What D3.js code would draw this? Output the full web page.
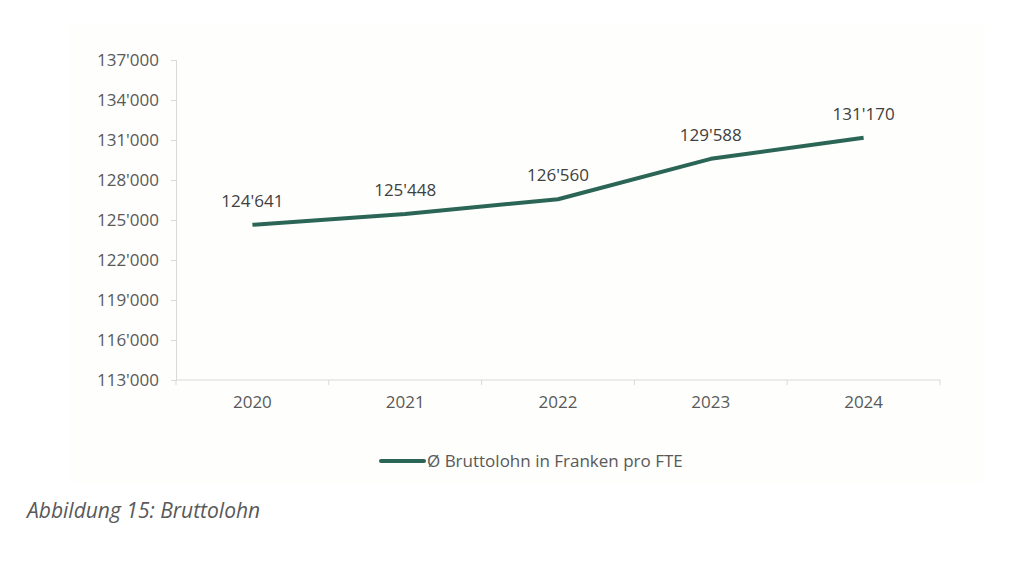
<!DOCTYPE html>
<html><head><meta charset="utf-8">
<script src="https://cdn.jsdelivr.net/npm/d3@7"></script>
<style>body{margin:0;background:#fff}svg{display:block}text{font-family:"Open Sans",sans-serif}</style>
</head><body>
<svg id="c" width="1024" height="567"></svg>
<script>
const years = ["2020","2021","2022","2023","2024"];
const values = [124641,125448,126560,129588,131170];
const yTicks = [113000,116000,119000,122000,125000,128000,131000,134000,137000];
const seriesName = "Ø Bruttolohn in Franken pro FTE";
const caption = "Abbildung 15: Bruttolohn";

(function(){
const svg = d3.select("#c");
const lineColor = "#2b6555", textColor = "#595959", axisColor = "#d9d9d9";
svg.append("rect").attr("x",70).attr("y",25).attr("width",915).attr("height",458).attr("fill","#fefefc");

const pL = 176, pR = 940, pT = 60, pB = 380;
const x = d3.scaleBand().domain(years).range([pL,pR]);
const y = d3.scaleLinear().domain([113000,137000]).range([pB,pT]);
const fmt = v => d3.format(",")(v).replace(/,/g,"'");

const ya = svg.append("g").attr("transform",`translate(${pL},0)`)
  .call(d3.axisLeft(y).tickValues(yTicks).tickSize(5).tickPadding(12).tickFormat(fmt));
ya.selectAll("path,line").attr("stroke",axisColor);
ya.selectAll("text").attr("fill",textColor).style("font-size","17px").style("font-family","Open Sans");

const xa = svg.append("g").attr("transform",`translate(0,${pB})`)
  .call(d3.axisBottom(x).tickSize(0).tickPadding(16));
xa.select("path").attr("stroke",axisColor).attr("d",`M${pL},0H${pR}`);
xa.selectAll("text").attr("fill",textColor).style("font-size","17px").style("font-family","Open Sans");
const bounds = years.map(d=>x(d)).concat([pR]);
xa.selectAll(".b").data(bounds).enter().append("line")
  .attr("x1",d=>d).attr("x2",d=>d).attr("y1",0).attr("y2",5).attr("stroke",axisColor);

const cx = d => x(d) + x.bandwidth()/2;
svg.append("path").datum(values)
  .attr("d", d3.line().x((d,i)=>cx(years[i])).y(d=>y(d)))
  .attr("fill","none").attr("stroke",lineColor).attr("stroke-width",4).attr("stroke-linejoin","round");

svg.selectAll(".lbl").data(values).enter().append("text")
  .attr("x",(d,i)=>cx(years[i])).attr("y",d=>y(d)-18)
  .attr("text-anchor","middle").attr("fill","#404040").style("font-size","17px")
  .text(fmt);

svg.append("line").attr("x1",381).attr("x2",424).attr("y1",461).attr("y2",461)
  .attr("stroke",lineColor).attr("stroke-width",4).attr("stroke-linecap","round");
svg.append("text").attr("x",427).attr("y",467).attr("fill",textColor).style("font-size","17px").text(seriesName);

svg.append("text").attr("x",27).attr("y",518).attr("fill","#595959").style("font-size","21px")
  .style("font-style","italic").text(caption);
})();
</script>
</body></html>
